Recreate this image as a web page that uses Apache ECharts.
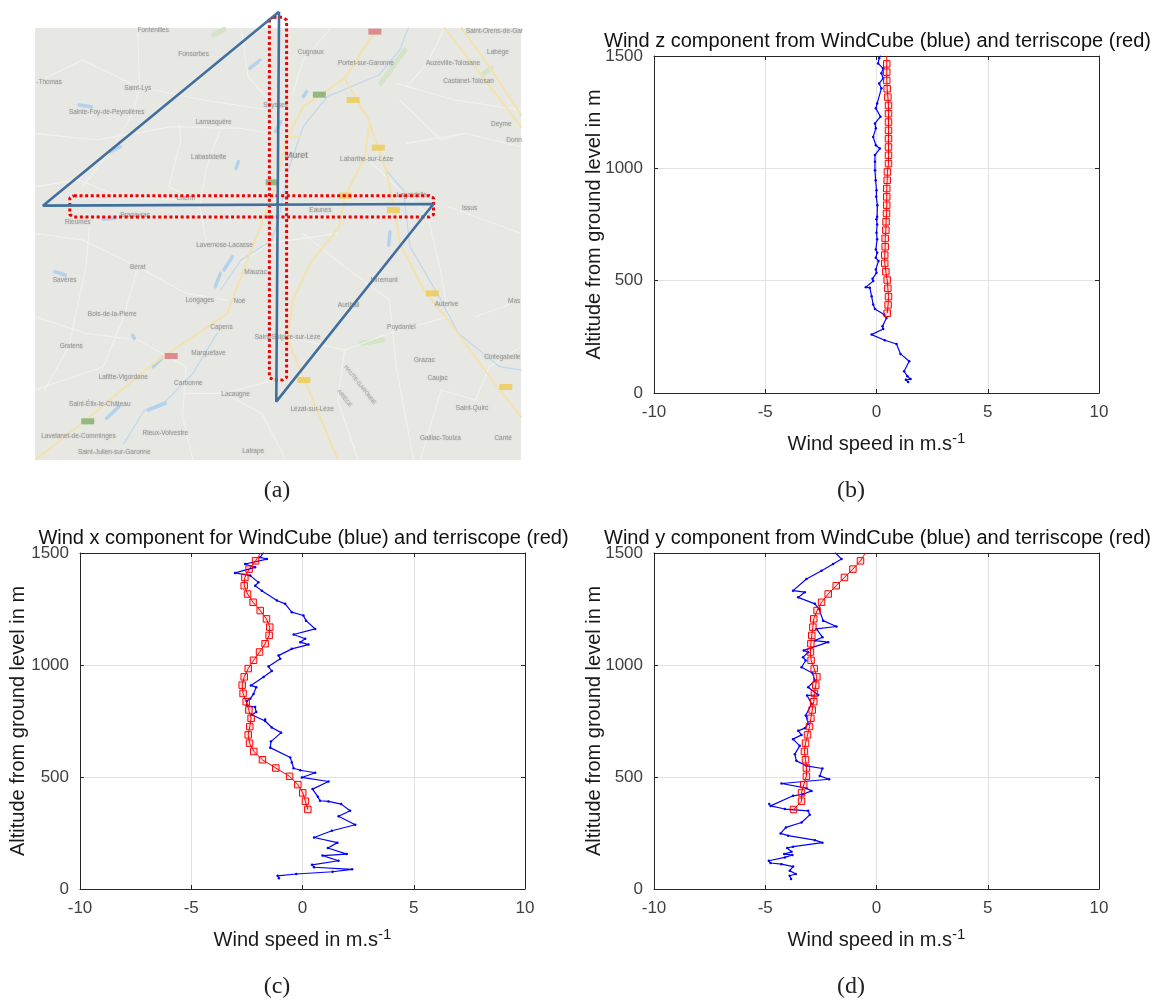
<!DOCTYPE html>
<html><head><meta charset="utf-8">
<style>html,body{margin:0;padding:0;background:#fff}#c{width:1158px;height:1001px}</style>
<script src="https://cdn.jsdelivr.net/npm/echarts@6/dist/echarts.min.js"></script>
</head><body><div id="c"></div>
<script>
// ---- terriscope altitudes (m) ----
const redAlt=[355,392,429,466,503,540,577,614,651,688,725,762,799,836,873,910,947,984,1021,1058,1095,1132,1169,1206,1243,1280,1317,1354,1391,1428,1465,1502];
// ---- panel (b) z component ----
const zRed=[.48,.52,.54,.51,.48,.42,.37,.37,.39,.39,.42,.43,.45,.46,.46,.46,.48,.49,.54,.54,.54,.54,.54,.54,.54,.54,.51,.48,.46,.46,.46,.46];
const zBlueAlt=[49,59,62,74,97,141,174,218,235,260,285,297,334,349,374,394,431,468,471,498,508,535,550,587,602,624,639,684,713,750,773,784,836,873,903,947,992,1029,1059,1088,1103,1140,1178,1200,1230,1267,1289,1356,1378,1400,1423,1445,1467,1490,1503];
const zBlue=[1.42,1.32,1.53,1.39,1.24,1.47,1.08,.90,.37,-.22,.30,.27,.45,.34,-.07,-.15,-.22,-.30,-.48,-.15,-.18,0,-.03,.09,-.03,.03,-.03,.03,0,.03,0,.03,.04,-.01,0,-.04,-.07,-.07,-.07,.15,-.03,-.15,-.03,-.07,.18,-.03,.03,.22,.12,.30,.22,.30,.07,.12,.18];
// ---- panel (c) x component ----
const xRed=[.24,.13,.01,-.21,-.58,-1.2,-1.8,-2.19,-2.38,-2.44,-2.37,-2.31,-2.41,-2.53,-2.67,-2.71,-2.62,-2.44,-2.2,-1.93,-1.68,-1.5,-1.47,-1.62,-1.9,-2.22,-2.47,-2.62,-2.59,-2.4,-2.11,-1.87];
const xBlueAlt=[48,59,67,77,88,97,108,126,149,156,183,207,230,260,287,325,349,379,391,394,412,446,480,498,519,530,539,565,587,631,658,698,721,750,757,778,790,812,819,839,849,871,901,909,946,973,993,1028,1042,1072,1091,1102,1117,1136,1161,1198,1221,1236,1273,1288,1332,1354,1369,1399,1411,1436,1451,1473,1481,1503];
const xBlue=[-1.06,-1.12,-.28,1.35,2.23,.52,.43,1.62,.90,1.99,1.14,1.57,.52,1.32,2.37,1.62,2.14,1.74,1.17,.79,.69,.45,1.17,-.03,.57,-.10,-.40,-.48,-.55,-1.45,-1.42,-.96,-1.38,-1.68,-1.68,-2.28,-2.08,-2.13,-2.5,-2.5,-2.35,-2.2,-2.08,-2.32,-1.75,-1.38,-1.53,-1.0,-1.08,-.48,.27,-.10,.12,-.40,.57,.16,.04,-.48,-.78,-1.15,-1.83,-2.13,-1.98,-2.35,-3.03,-2.13,-2.58,-1.6,-1.9,-1.75];
// ---- panel (d) y component ----
const yRed=[-3.73,-3.37,-3.37,-3.27,-3.15,-3.15,-3.19,-3.24,-3.19,-3.1,-3.01,-2.95,-2.89,-2.82,-2.79,-2.73,-2.68,-2.8,-2.94,-2.97,-2.95,-2.91,-2.86,-2.82,-2.67,-2.47,-2.17,-1.81,-1.44,-1.06,-.72,-.49];
const yBlueAlt=[45,59,67,82,100,111,116,126,141,152,156,166,183,189,207,218,238,248,275,297,331,349,357,371,379,416,423,438,450,471,490,505,538,550,572,602,639,669,688,706,718,738,775,827,864,866,901,931,964,990,1020,1035,1057,1065,1102,1109,1124,1161,1172,1198,1250,1273,1302,1325,1332,1384,1421,1451,1473,1503];
const yBlue=[-3.84,-3.90,-3.63,-3.90,-3.75,-4.27,-4.76,-4.84,-4.12,-3.78,-4.15,-3.82,-4.01,-3.75,-2.43,-2.77,-3.97,-4.31,-4.07,-3.37,-3.0,-3.07,-4.12,-4.76,-4.82,-3.75,-3.3,-2.92,-3.15,-4.27,-2.13,-2.55,-2.43,-3.15,-3.6,-3.67,-3.45,-3.75,-3.37,-3.52,-3.22,-3.07,-3.18,-2.92,-3.12,-2.62,-3.07,-2.77,-2.88,-3.37,-3.18,-3.3,-3.07,-3.27,-2.17,-2.77,-2.43,-2.70,-1.80,-2.40,-2.58,-2.77,-3.52,-3.22,-3.75,-3.15,-2.47,-1.95,-1.57,-1.87];
// ---- axis ticks and texts ----
const xTicks=[-10,-5,0,5,10];
const yTicks=[0,500,1000,1500];
const titles=["Wind z component from WindCube (blue) and terriscope (red)","Wind x component for WindCube (blue) and terriscope (red)","Wind y component from WindCube (blue) and terriscope (red)"];
const captions=["(a)","(b)","(c)","(d)"];
// ---- map sketch, in the map's own units ----
const flightTrack=[[810,35],[125,617],[1258,612],[802,1205],[810,35]];
const zoneH=[[215,587],[1246,587],[1258,594],[1258,644],[1246,651],[215,651],[203,644],[203,594],[215,587]];
const zoneV=[[794,52],[820,52],[832,60],[832,1132],[820,1140],[794,1140],[782,1132],[782,60],[794,52]];
const majorRoads=[
[[105,1378],[250,1260],[440,1095],[660,940],[700,830],[760,670],[800,560],[830,420],[880,320],[1000,235],[1085,100]],
[[1000,235],[1070,360],[1120,510],[1150,650],[1160,730],[1230,870],[1300,960],[1450,1170],[1512,1250]],
[[1070,380],[1060,470],[1000,590],[985,680],[900,790],[850,900],[835,1020],[880,1130],[980,1378]],
[[1290,84],[1400,230],[1512,380]],[[1340,84],[1420,200],[1512,345]],[[830,410],[870,410]]];
const minorRoads=[
[[400,84],[405,260],[390,330],[330,440],[240,560]],[[102,400],[280,420],[500,380],[700,385],[780,400]],
[[102,250],[240,180],[400,260],[590,300],[780,330]],[[520,370],[525,420],[490,560],[570,600]],
[[102,700],[240,720],[400,800],[540,880],[660,900]],[[400,800],[360,950],[300,1100],[102,1170]],
[[102,950],[250,1000],[400,1020],[540,1100]],[[540,1100],[530,1250],[560,1380]],
[[700,790],[780,730],[980,700]],[[830,1010],[1000,1050],[1130,1000],[1300,950]],
[[1130,900],[1150,1100],[1200,1380]],[[1380,1200],[1280,1170],[1220,1380]],
[[1300,620],[1512,700]],[[1180,430],[1350,400],[1512,440]],[[1150,250],[1320,300],[1512,330]],
[[700,84],[720,230],[780,300]],[[960,84],[880,180],[850,280]],[[1380,950],[1512,900]],
[[1240,640],[1280,820],[1300,940]],[[260,680],[250,800],[200,1040],[130,1170]],
[[640,390],[600,500],[580,620],[600,730]],[[1000,1050],[980,1200],[1040,1380]],
[[1060,470],[1180,590],[1240,640]],[[102,560],[230,540],[350,590],[520,600]],
[[650,1180],[760,1240],[830,1380]],[[540,1180],[650,1180],[830,1130]],[[1512,1040],[1420,1100],[1380,1200]],
[[1290,84],[1240,190],[1180,260]],[[1160,300],[1280,420],[1350,400]],[[880,700],[1000,800],[1130,900]]];
const riverPaths=[
[[1185,84],[1160,150],[1100,225],[950,290],[880,380],[840,500],[810,650],[790,720],[700,780],[640,870]],
[[1120,510],[1170,570],[1190,740],[1280,900],[1330,1000],[1450,1100],[1512,1110]],
[[360,1330],[420,1230],[480,1205],[560,1120],[630,1000]]];
const waterPatches=[[[725,205],[755,180]],[[685,505],[692,485]],[[650,810],[675,770]],[[625,860],[640,820]],[[1128,735],[1132,695]],[[310,1255],[345,1220]],[[800,395],[815,365]],[[880,290],[890,275]],[[300,658],[335,655]],[[230,315],[265,320]],[[160,815],[190,825]],[[320,455],[350,440]],[[430,1230],[480,1210]],[[385,1005],[390,1015]],[[445,1100],[470,1075]]];
const greenPatches=[[[620,105],[650,88]],[[1105,250],[1175,150]],[[1050,1030],[1110,1020]],[[1400,225],[1425,205]]];
const badgesYellow=[[1025,300],[1098,443],[1142,630],[1255,880],[1468,1161],[882,1140],[1002,587]];
const badgesRed=[[1088,95],[497,1068]];
const badgesGreen=[[927,284],[790,547],[255,1264]];
const placeNames=["Fontenilles","Fonsorbes","Cugnaux","Portet-sur-Garonne","Auzeville-Tolosane","Saint-Orens-de-Gar","Labège","Castanet-Tolosan","-Thomas","Saint-Lys","Sainte-Foy-de-Peyrolières","Seysses","Lamasquère","Deyme","Donn","Labastidette","Labarthe-sur-Lèze","Lherm","Bragayrac","Rieumes","Eaunes","Issus","Lagardelle","Lavernose-Lacasse","Mauzac","Bérat","Savères","Miremont","Longages","Noé","Auterive","Auribail","Mas","Bois-de-la-Pierre","Capens","Puydaniel","Saint-Sulpice-sur-Lèze","Gratens","Marquefave","Cintegabelle","Grazac","Lafitte-Vigordane","Caujac","Carbonne","Lacaugne","Saint-Élix-le-Château","Lézat-sur-Lèze","Saint-Quirc","Lavelanet-de-Comminges","Rieux-Volvestre","Gaillac-Toulza","Canté","Saint-Julien-sur-Garonne","Latrape"];
const placeSpots=[[445,92],[562,162],[902,156],[1062,190],[1315,190],[1435,95],[1445,158],[1360,244],[143,248],[400,265],[310,338],[800,316],[620,368],[1455,373],[1492,420],[606,472],[1064,478],[540,595],[392,647],[226,668],[930,631],[1363,625],[1195,585],[652,735],[742,817],[400,802],[188,840],[1115,840],[580,901],[695,903],[1296,913],[1012,916],[1492,905],[326,944],[643,981],[1165,981],[835,1012],[207,1039],[605,1060],[1458,1072],[1232,1081],[358,1131],[1270,1134],[547,1150],[684,1182],[290,1212],[906,1227],[1370,1226],[228,1310],[480,1301],[1278,1314],[1460,1316],[332,1358],[735,1355]];
const townName="Muret", townSpot=[860,466];
const regionNames=["HAUTE-GARONNE","ARIÈGE"], regionSpots=[[1045,1155],[1000,1195]];

const FONT='"Liberation Sans",Arial,sans-serif';
const pts=(xs,ys)=>xs.map((x,i)=>[x,ys[i]]);
const panels=[
 {left:654,top:56,h:337,title:titles[0],red:zRed,blue:zBlue,blueAlt:zBlueAlt},
 {left:80,top:553,h:336,title:titles[1],red:xRed,blue:xBlue,blueAlt:xBlueAlt},
 {left:654,top:553,h:336,title:titles[2],red:yRed,blue:yBlue,blueAlt:yBlueAlt}];
const grid=[{left:35,top:28,width:486,height:432,show:true,backgroundColor:'#e7e7e4',borderWidth:0}];
const xAxis=[{gridIndex:0,type:'value',min:102,max:1512,show:false}];
const yAxis=[{gridIndex:0,type:'value',min:84,max:1380,inverse:true,show:false}];
const series=[];
const title=[];
const cartesianRoads=(list,color,width,name)=>({type:'lines',coordinateSystem:'cartesian2d',xAxisIndex:0,yAxisIndex:0,polyline:true,silent:true,name,
  lineStyle:{color,width,opacity:1,cap:'round',join:'round'},data:list.map(c=>({coords:c})),z:2});
series.push(cartesianRoads(greenPatches,'#d5e3c8',5,'parks'));
series.push(cartesianRoads(minorRoads,'#f1f1ef',1.1,'minor roads'));
series.push(cartesianRoads(riverPaths,'#c3d8ea',1.3,'rivers'));
series.push(cartesianRoads(waterPatches,'#b4d2ec',3.5,'water'));
series.push(cartesianRoads(majorRoads,'#f3e2ae',2,'major roads'));
const badge=(d,color)=>({type:'scatter',xAxisIndex:0,yAxisIndex:0,data:d,symbol:'rect',symbolSize:[13,6],silent:true,itemStyle:{color},z:3});
series.push(badge(badgesYellow,'#eccb4f'),badge(badgesRed,'#d9757a'),badge(badgesGreen,'#7eac68'));
const soft={textShadowColor:'rgba(120,120,120,0.55)',textShadowBlur:1.5};
series.push({type:'scatter',xAxisIndex:0,yAxisIndex:0,symbolSize:0,silent:true,z:4,clip:true,
  data:placeNames.map((n,i)=>({name:n,value:placeSpots[i]})),
  label:Object.assign({show:true,position:'inside',formatter:'{b}',fontFamily:FONT,color:'#8c8c8c',fontSize:6.5},soft)});
series.push({type:'scatter',xAxisIndex:0,yAxisIndex:0,symbolSize:0,silent:true,z:4,
  data:[{name:townName,value:townSpot}],
  label:Object.assign({show:true,position:'inside',formatter:'{b}',fontFamily:FONT,color:'#707070',fontSize:9},soft)});
series.push({type:'scatter',xAxisIndex:0,yAxisIndex:0,symbolSize:0,silent:true,z:4,
  data:regionNames.map((n,i)=>({name:n,value:regionSpots[i]})),
  label:Object.assign({show:true,position:'inside',rotate:-52,formatter:'{b}',fontFamily:FONT,color:'#a0a0a0',fontSize:5.5},soft)});
const track=(d,color,width,type)=>({type:'line',xAxisIndex:0,yAxisIndex:0,data:d,symbol:'none',clip:false,silent:true,z:6,
  lineStyle:{color,width,type,cap:'butt'}});
series.push(track(zoneH,'#f00000',3,[3,2.6]),track(zoneV,'#f00000',3,[3,2.6]),track(flightTrack,'#41709f',2.6,'solid'));

panels.forEach((p,i)=>{
  const g=i+1, bx=xAxis.length, by=yAxis.length;
  grid.push({left:p.left,top:p.top,width:445,height:p.h,show:false});
  const line={show:true,lineStyle:{color:'#262626',width:1}};
  const tick={show:true,inside:true,length:4,lineStyle:{color:'#262626',width:1}};
  xAxis.push({gridIndex:g,type:'value',position:'bottom',min:xTicks[0],max:xTicks[4],interval:5,
    axisLine:Object.assign({onZero:false},line),axisTick:tick,
    splitLine:{show:true,lineStyle:{color:'#e2e2e2',width:1}},
    axisLabel:{fontFamily:FONT,fontSize:17,color:'#404040',margin:11},
    name:'{a|Wind speed in m.s}{b|-1}',nameLocation:'middle',nameGap:38,
    nameTextStyle:{rich:{a:{fontFamily:FONT,fontSize:20,color:'#1a1a1a'},b:{fontFamily:FONT,fontSize:15,color:'#1a1a1a',padding:[0,0,11,0]}}}});
  xAxis.push({gridIndex:g,type:'value',position:'top',min:xTicks[0],max:xTicks[4],interval:5,
    axisLine:Object.assign({onZero:false},line),axisTick:tick,axisLabel:{show:false},splitLine:{show:false}});
  yAxis.push({gridIndex:g,type:'value',position:'left',min:yTicks[0],max:yTicks[3],interval:500,
    axisLine:Object.assign({onZero:false},line),axisTick:tick,
    splitLine:{show:true,lineStyle:{color:'#e2e2e2',width:1}},
    axisLabel:{fontFamily:FONT,fontSize:17,color:'#404040',margin:11,formatter:v=>String(v)},
    name:'Altitude from ground level in m',nameLocation:'middle',nameMoveOverlap:false,nameGap:i===1?52:50,
    nameTextStyle:{fontFamily:FONT,fontSize:20,color:'#1a1a1a'}});
  yAxis.push({gridIndex:g,type:'value',position:'right',min:yTicks[0],max:yTicks[3],interval:500,
    axisLine:Object.assign({onZero:false},line),axisTick:tick,axisLabel:{show:false},splitLine:{show:false}});
  series.push({type:'line',name:'WindCube',xAxisIndex:bx,yAxisIndex:by,data:pts(p.blue,p.blueAlt),clip:true,
    symbol:'circle',symbolSize:2.5,showAllSymbol:true,itemStyle:{color:'#0000ff'},lineStyle:{color:'#0000ff',width:1.2},silent:true,z:5});
  series.push({type:'line',name:'terriscope',xAxisIndex:bx,yAxisIndex:by,data:pts(p.red,redAlt),clip:true,
    symbol:'rect',symbolSize:6.5,showAllSymbol:true,itemStyle:{color:'rgba(255,0,0,0.12)',borderColor:'#ff0000',borderWidth:1},lineStyle:{color:'#ff0000',width:1},silent:true,z:6});
  title.push({text:p.title,left:p.left+223.5,textAlign:'center',top:p.top-25,padding:0,textStyle:{fontFamily:FONT,fontSize:20,fontWeight:'normal',color:'#111'}});
});
const capSpots=[[277,479],[851,479],[277,975],[851,975]];
captions.forEach((t,i)=>title.push({text:t,left:capSpots[i][0],top:capSpots[i][1],textAlign:'center',padding:0,
  textStyle:{fontFamily:'"Liberation Serif",serif',fontSize:24,fontWeight:'normal',color:'#222'}}));
const chart=echarts.init(document.getElementById('c'));
chart.setOption({animation:false,backgroundColor:'#fff',title,grid,xAxis,yAxis,series});
</script></body></html>
